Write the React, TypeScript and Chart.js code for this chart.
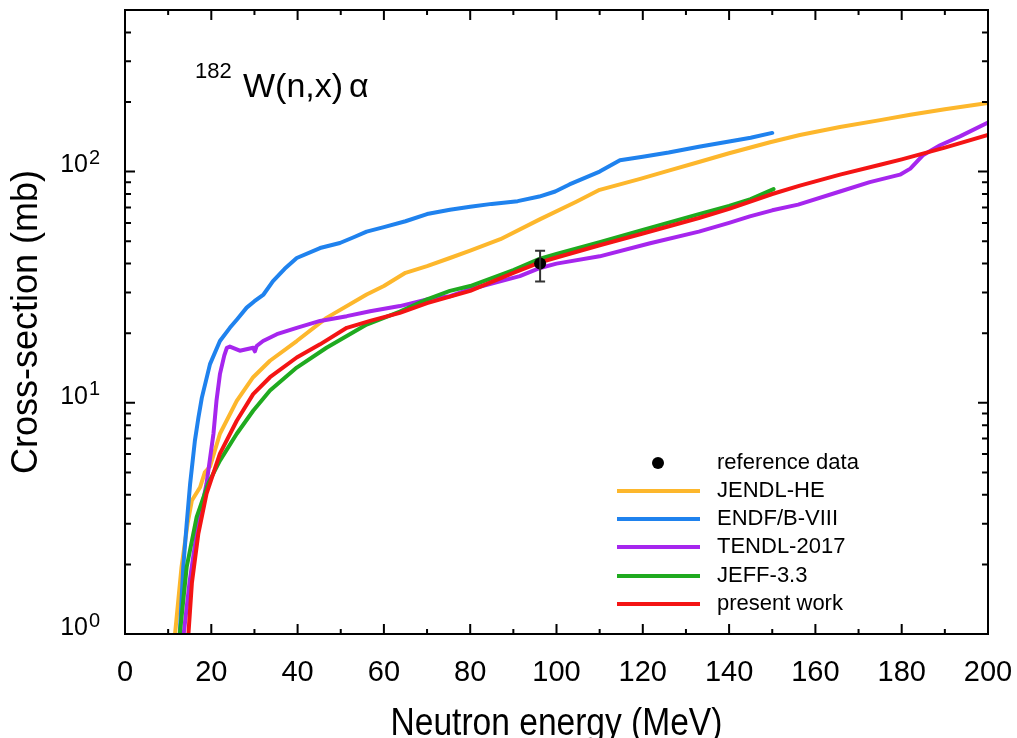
import { useEffect, useRef } from 'react';
import { Chart, registerables } from 'chart.js';

Chart.register(...registerables);

// Energy grids (MeV) and cross-sections (mb) for each evaluation
const jendlE = [11.3, 11.6, 13.1, 14.5, 15.5, 17.4, 18.5, 19.7, 22, 25.9, 29.7, 33.6, 39.8, 46.7, 56, 60, 65, 70, 75.3, 80, 87, 96, 104.7, 110, 119.4, 126, 133, 140, 149.5, 156.4, 165.7, 175, 182, 190, 200];
const jendlXS = [0.7, 1.0, 1.95, 3.0, 3.78, 4.31, 5.0, 5.3, 7.35, 10.2, 12.9, 15.2, 18.5, 23.3, 29.4, 32, 36.5, 39, 42.3, 45.5, 51, 62, 74.3, 83.4, 93, 101, 110, 120, 134, 144, 156, 167, 176, 186, 198];

const endfE = [12.3, 12.7, 13.5, 14.3, 15.1, 16.2, 17.0, 17.8, 19.7, 22.0, 24.3, 26, 28.2, 30, 32.1, 34.3, 37, 39.8, 45.2, 49.8, 53, 56, 60, 65, 70, 75.3, 80, 85, 91, 96, 99.7, 103, 110, 114.7, 120, 126, 133, 140, 145, 150];
const endfXS = [0.7, 1.0, 1.95, 3.0, 4.48, 6.86, 8.6, 10.5, 14.7, 18.5, 21.1, 23, 25.8, 27.5, 29.4, 33.6, 38, 42.3, 46.7, 49.1, 52, 55, 57.5, 61, 65.5, 68.4, 70.5, 72.5, 74.5, 78, 82, 88, 100, 112, 116, 121, 128, 135, 140, 147];

const tendlE = [13.0, 13.6, 15, 16.6, 18.9, 20.5, 21.2, 22, 23.0, 23.6, 24.3, 26.6, 29.7, 30.1, 30.5, 32, 35.2, 39.8, 45.2, 51.4, 56.8, 63.7, 70, 75.3, 80, 91.5, 96.2, 100, 110, 121.7, 133, 140, 144.8, 150, 156, 165.7, 172.6, 179.6, 182, 185, 188.9, 193.5, 200];
const tendlXS = [0.7, 1.0, 1.7, 2.72, 4.48, 7.35, 10.2, 13.3, 16.0, 17.3, 17.5, 16.8, 17.3, 16.7, 17.6, 18.5, 19.8, 21.1, 22.6, 23.7, 24.9, 26.2, 28, 28.9, 31, 35.3, 38.3, 40, 43, 49, 55, 60, 64, 68, 72, 82, 90, 97, 103, 118, 130, 142, 163];

const jeffE = [12.3, 12.7, 14.3, 16.6, 19.3, 22, 25.9, 29.7, 33.6, 39.8, 46.7, 56, 63.7, 70, 75.3, 80, 90, 96.2, 100, 110, 120, 133, 140, 145, 150.3];
const jeffXS = [0.75, 1.0, 1.95, 3.2, 4.48, 5.62, 7.35, 9.24, 11.3, 14.2, 17.3, 21.8, 24.8, 28, 30.5, 32, 37.5, 42, 44, 49.5, 56, 65.5, 71, 76, 84];

const presentE = [14.3, 14.7, 15.5, 17, 18.9, 22, 25.9, 29.7, 33.6, 39.8, 45.2, 51.4, 56.8, 63.7, 70, 80, 90, 96.2, 100, 110, 120, 133, 140, 150, 156.4, 165.7, 175, 180, 190, 200];
const presentXS = [0.8, 1.0, 1.66, 2.72, 4.05, 6.03, 8.36, 10.9, 12.9, 15.7, 17.9, 21.1, 22.6, 24.5, 27, 30.5, 36.5, 40.5, 42.5, 48, 54, 63, 69, 80, 87, 97, 107, 113, 127, 144];

// Reference measurement with its uncertainty band
const refE = [96.2];
const refXS = [40];
const refLow = [33.5];
const refHigh = [45.5];

const xTickValues = [0, 20, 40, 60, 80, 100, 120, 140, 160, 180, 200];
const yDecades = [1, 10, 100];
const yExponents = ['0', '1', '2'];

const seriesNames = ['JENDL-HE', 'ENDF/B-VIII', 'TENDL-2017', 'JEFF-3.3', 'present work'];
const seriesColors = ['#FDB72C', '#1F82EE', '#A626EE', '#1FAA1F', '#F41414'];

const FONT = "'Liberation Sans', Arial, sans-serif";

const pts = (xs: number[], ys: number[]) => xs.map((x, i) => ({ x, y: ys[i] }));

const decorPlugin = {
  id: 'decor',
  afterDatasetsDraw(chart: any) {
    const { ctx, scales } = chart;
    const xs = scales.x;
    const ys = scales.y;
    ctx.save();
    ctx.strokeStyle = '#333';
    ctx.lineWidth = 2;
    for (let i = 0; i < refE.length; i++) {
      const px = xs.getPixelForValue(refE[i]);
      const top = ys.getPixelForValue(refHigh[i]);
      const bot = ys.getPixelForValue(refLow[i]);
      ctx.beginPath();
      ctx.moveTo(px, top);
      ctx.lineTo(px, bot);
      ctx.moveTo(px - 5, top);
      ctx.lineTo(px + 5, top);
      ctx.moveTo(px - 5, bot);
      ctx.lineTo(px + 5, bot);
      ctx.stroke();
    }
    ctx.restore();
  },
  afterDraw(chart: any) {
    const { ctx, chartArea: a, scales } = chart;
    const xs = scales.x;
    const ys = scales.y;
    ctx.save();

    // frame
    ctx.strokeStyle = '#000';
    ctx.lineWidth = 2;
    ctx.strokeRect(a.left, a.top, a.right - a.left, a.bottom - a.top);

    // x ticks, inside, bottom and top
    ctx.beginPath();
    for (let v = 0; v <= 200; v += 10) {
      const px = xs.getPixelForValue(v);
      const len = v % 20 === 0 ? 10 : 5;
      ctx.moveTo(px, a.bottom);
      ctx.lineTo(px, a.bottom - len);
      ctx.moveTo(px, a.top);
      ctx.lineTo(px, a.top + len);
    }
    // y ticks, inside, left and right
    for (const d of yDecades) {
      for (let m = 1; m <= 9; m++) {
        const v = d * m;
        if (v > ys.max) break;
        const py = ys.getPixelForValue(v);
        const len = m === 1 ? 10 : 6;
        ctx.moveTo(a.left, py);
        ctx.lineTo(a.left + len, py);
        ctx.moveTo(a.right, py);
        ctx.lineTo(a.right - len, py);
      }
    }
    ctx.stroke();

    // y tick labels as powers of ten
    ctx.fillStyle = '#000';
    ctx.textBaseline = 'middle';
    yDecades.forEach((d, i) => {
      const py = ys.getPixelForValue(d);
      ctx.font = `25px ${FONT}`;
      ctx.textAlign = 'right';
      ctx.fillText('10', 88, py - 6);
      ctx.font = `20px ${FONT}`;
      ctx.textAlign = 'left';
      ctx.fillText(yExponents[i], 89, py - 13);
    });

    // x axis title
    ctx.save();
    ctx.font = `39px ${FONT}`;
    ctx.textAlign = 'center';
    ctx.textBaseline = 'alphabetic';
    const cx = (a.left + a.right) / 2;
    ctx.translate(cx, 735);
    ctx.scale(0.86, 1);
    ctx.fillText('Neutron energy (MeV)', 0, 0);
    ctx.restore();

    // reaction label
    ctx.textAlign = 'left';
    ctx.textBaseline = 'alphabetic';
    ctx.font = `22px ${FONT}`;
    ctx.fillText('182', 195, 78);
    ctx.font = `34px ${FONT}`;
    ctx.fillText('W(n,x)', 243, 97);
    ctx.fillText('\u03b1', 349, 97);

    // legend
    const lx0 = 617;
    const lx1 = 700;
    const tx = 717;
    const rowY = [463, 491, 519, 547, 576, 604];
    ctx.font = `22px ${FONT}`;
    ctx.textBaseline = 'middle';
    ctx.beginPath();
    ctx.arc(658, rowY[0], 6, 0, Math.PI * 2);
    ctx.fill();
    ctx.fillText('reference data', tx, rowY[0]);
    seriesNames.forEach((name, i) => {
      const y = rowY[i + 1];
      ctx.strokeStyle = seriesColors[i];
      ctx.lineWidth = 4;
      ctx.beginPath();
      ctx.moveTo(lx0, y);
      ctx.lineTo(lx1, y);
      ctx.stroke();
      ctx.fillStyle = '#000';
      ctx.fillText(name, tx, y);
    });

    ctx.restore();
  },
};

export default function App() {
  const canvasRef = useRef<HTMLCanvasElement | null>(null);

  useEffect(() => {
    const canvas = canvasRef.current;
    if (!canvas) return;

    const curve = (label: string, xs: number[], ys: number[], color: string) => ({
      type: 'line' as const,
      label,
      data: pts(xs, ys),
      borderColor: color,
      backgroundColor: color,
      borderWidth: 4,
      pointRadius: 0,
      tension: 0,
      fill: false,
      clip: 0,
      borderJoinStyle: 'round' as const,
      borderCapStyle: 'round' as const,
    });

    const chart = new Chart(canvas, {
      type: 'line',
      data: {
        datasets: [
          {
            type: 'line',
            label: 'reference data',
            data: pts(refE, refXS),
            showLine: false,
            pointRadius: 6,
            pointBackgroundColor: '#000',
            pointBorderColor: '#000',
            pointBorderWidth: 0,
          } as any,
          curve(seriesNames[4], presentE, presentXS, seriesColors[4]),
          curve(seriesNames[3], jeffE, jeffXS, seriesColors[3]),
          curve(seriesNames[2], tendlE, tendlXS, seriesColors[2]),
          curve(seriesNames[1], endfE, endfXS, seriesColors[1]),
          curve(seriesNames[0], jendlE, jendlXS, seriesColors[0]),
        ],
      },
      options: {
        responsive: false,
        animation: false,
        layout: { padding: { left: 0, top: 10, right: 29, bottom: 0 } },
        plugins: {
          legend: { display: false },
          tooltip: { enabled: false },
          title: { display: false },
        },
        scales: {
          x: {
            type: 'linear',
            min: 0,
            max: 200,
            grid: { display: false },
            border: { display: false },
            afterBuildTicks: (s: any) => {
              s.ticks = xTickValues.map((value) => ({ value }));
            },
            afterFit: (s: any) => {
              s.height = 104;
              s.paddingLeft = 0;
              s.paddingRight = 0;
            },
            ticks: {
              autoSkip: false,
              maxRotation: 0,
              padding: 14,
              color: '#000',
              font: { family: FONT, size: 29 },
            },
          },
          y: {
            type: 'logarithmic',
            min: 1,
            max: 500,
            grid: { display: false },
            border: { display: false },
            afterFit: (s: any) => {
              s.width = 125;
              s.paddingTop = 0;
              s.paddingBottom = 0;
            },
            ticks: { display: false },
            title: {
              display: true,
              text: 'Cross-section (mb)',
              color: '#000',
              font: { family: FONT, size: 36 },
              padding: { top: 5, bottom: 0 },
            },
          },
        },
      },
      plugins: [decorPlugin],
    } as any);

    return () => chart.destroy();
  }, []);

  return (
    <div style={{ position: 'absolute', left: 0, top: 0, width: 1017, height: 738, background: '#fff' }}>
      <canvas ref={canvasRef} width={1017} height={738} />
    </div>
  );
}
